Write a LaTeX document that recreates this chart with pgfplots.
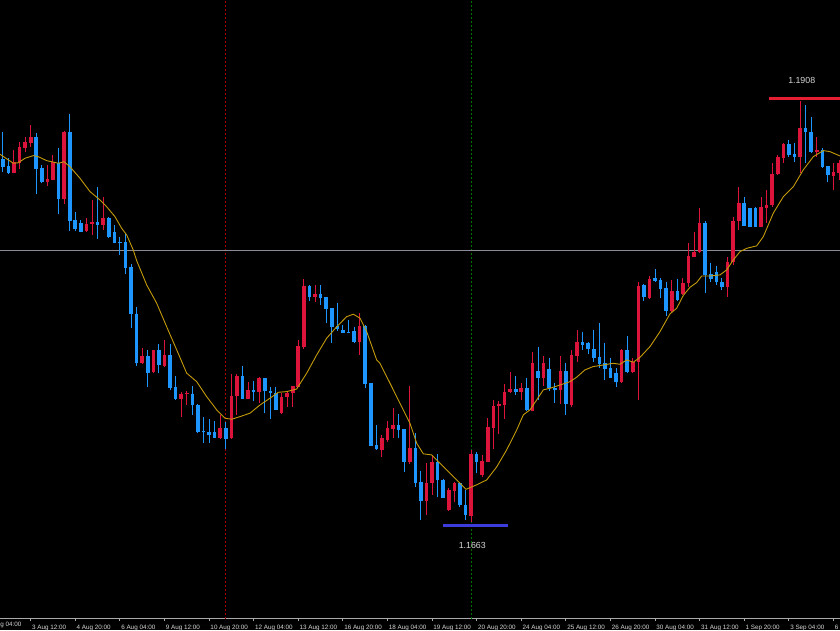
\documentclass[border=0pt]{standalone}
\usepackage{pgfplots}
\pgfplotsset{compat=1.18}
\usepackage{pgfplotstable}
\usepackage{fontspec}
\setmainfont{Liberation Sans}
\definecolor{cUp}{RGB}{220,20,60}
\definecolor{cDn}{RGB}{30,150,255}
\definecolor{cMA}{RGB}{195,155,10}
\definecolor{cGrid}{RGB}{140,140,150}
\definecolor{cAxis}{RGB}{170,170,170}
\definecolor{cLvlR}{RGB}{230,30,50}
\definecolor{cLvlB}{RGB}{60,60,220}
\definecolor{cTxt}{RGB}{215,215,215}
\definecolor{cSepR}{RGB}{170,0,0}
\definecolor{cSepG}{RGB}{0,115,0}

% bullish (red) candles: bar index, open, high, low, close
\pgfplotstableread{
x o h l c
-3 1.18654 1.18786 1.18653 1.18717
-2 1.18710 1.18831 1.18677 1.18802
-1 1.18800 1.18860 1.18773 1.18834
0 1.18828 1.18930 1.18805 1.18860
3 1.18604 1.18699 1.18578 1.18620
4 1.18616 1.18758 1.18612 1.18717
6 1.18505 1.18896 1.18478 1.18892
10 1.18319 1.18394 1.18315 1.18363
11 1.18363 1.18499 1.18296 1.18371
13 1.18357 1.18516 1.18325 1.18396
20 1.17560 1.17650 1.17558 1.17602
22 1.17508 1.17638 1.17506 1.17638
24 1.17546 1.17694 1.17541 1.17610
27 1.17353 1.17397 1.17253 1.17382
28 1.17384 1.17403 1.17320 1.17391
34 1.17132 1.17263 1.17125 1.17190
36 1.17129 1.17499 1.17125 1.17372
37 1.17372 1.17499 1.17263 1.17489
39 1.17355 1.17451 1.17352 1.17405
41 1.17397 1.17480 1.17330 1.17474
45 1.17273 1.17388 1.17269 1.17368
46 1.17365 1.17403 1.17311 1.17391
47 1.17391 1.17430 1.17311 1.17430
48 1.17422 1.17694 1.17421 1.17660
49 1.17652 1.18045 1.17642 1.18005
51 1.17943 1.18010 1.17914 1.17959
59 1.17683 1.17851 1.17608 1.17774
63 1.17062 1.17148 1.17023 1.17129
64 1.17119 1.17230 1.17109 1.17190
65 1.17184 1.17301 1.17129 1.17207
68 1.16991 1.17431 1.16981 1.17075
71 1.16768 1.16985 1.16688 1.16874
72 1.16874 1.17033 1.16803 1.16994
75 1.16717 1.16841 1.16711 1.16832
76 1.16828 1.16879 1.16764 1.16870
79 1.16684 1.17062 1.16649 1.17039
81 1.16918 1.17033 1.16908 1.17000
82 1.16994 1.17244 1.16992 1.17196
83 1.17190 1.17349 1.17067 1.17315
84 1.17315 1.17343 1.17154 1.17328
85 1.17320 1.17441 1.17240 1.17395
86 1.17393 1.17512 1.17388 1.17412
88 1.17393 1.17445 1.17349 1.17418
90 1.17286 1.17627 1.17283 1.17560
92 1.17474 1.17602 1.17430 1.17560
95 1.17407 1.17602 1.17326 1.17516
97 1.17320 1.17637 1.17311 1.17608
98 1.17602 1.17751 1.17568 1.17681
106 1.17451 1.17641 1.17445 1.17637
108 1.17508 1.17589 1.17503 1.17566
109 1.17566 1.18029 1.17349 1.18006
111 1.17934 1.18062 1.17930 1.18045
115 1.17863 1.18039 1.17851 1.17978
117 1.17959 1.18049 1.17953 1.18024
118 1.18024 1.18250 1.17997 1.18177
119 1.18173 1.18315 1.18170 1.18202
120 1.18202 1.18451 1.18193 1.18365
125 1.17997 1.18170 1.17940 1.18144
126 1.18144 1.18403 1.18125 1.18380
127 1.18380 1.18575 1.18326 1.18480
131 1.18345 1.18518 1.18342 1.18457
132 1.18455 1.18557 1.18365 1.18470
133 1.18470 1.18710 1.18460 1.18648
134 1.18648 1.18758 1.18643 1.18748
135 1.18739 1.18825 1.18710 1.18819
138 1.18745 1.19070 1.18656 1.18911
141 1.18777 1.18860 1.18748 1.18786
144 1.18639 1.18710 1.18557 1.18662
145 1.18653 1.18729 1.18614 1.18710
}\upT

% bearish (blue) candles
\pgfplotstableread{
x o h l c
-5 1.18733 1.18888 1.18662 1.18690
-4 1.18696 1.18739 1.18648 1.18654
1 1.18863 1.18882 1.18533 1.18679
2 1.18685 1.18699 1.18595 1.18601
5 1.18710 1.18800 1.18417 1.18506
7 1.18890 1.18995 1.18322 1.18378
8 1.18384 1.18430 1.18322 1.18330
9 1.18365 1.18384 1.18313 1.18317
12 1.18373 1.18572 1.18276 1.18357
14 1.18396 1.18400 1.18282 1.18286
15 1.18313 1.18353 1.18250 1.18253
16 1.18256 1.18286 1.18183 1.18252
17 1.18256 1.18302 1.18074 1.18110
18 1.18112 1.18129 1.17765 1.17844
19 1.17845 1.17885 1.17546 1.17560
21 1.17602 1.17637 1.17426 1.17506
23 1.17637 1.17669 1.17503 1.17550
25 1.17610 1.17671 1.17407 1.17420
26 1.17424 1.17487 1.17349 1.17355
29 1.17384 1.17431 1.17263 1.17320
30 1.17320 1.17323 1.17160 1.17163
31 1.17171 1.17253 1.17100 1.17163
32 1.17163 1.17240 1.17100 1.17148
33 1.17163 1.17230 1.17129 1.17132
35 1.17190 1.17224 1.17065 1.17126
38 1.17489 1.17545 1.17353 1.17353
40 1.17407 1.17460 1.17345 1.17397
42 1.17474 1.17476 1.17273 1.17401
43 1.17401 1.17426 1.17240 1.17388
44 1.17388 1.17426 1.17289 1.17292
50 1.18005 1.18010 1.17920 1.17940
52 1.17959 1.18010 1.17895 1.17934
53 1.17940 1.17941 1.17790 1.17872
54 1.17876 1.17878 1.17675 1.17770
55 1.17774 1.17908 1.17747 1.17755
56 1.17751 1.17780 1.17732 1.17736
57 1.17742 1.17809 1.17732 1.17734
58 1.17746 1.17770 1.17675 1.17684
60 1.17777 1.17780 1.17416 1.17439
61 1.17445 1.17449 1.17085 1.17086
62 1.17090 1.17205 1.17062 1.17065
66 1.17207 1.17269 1.17129 1.17176
67 1.17180 1.17182 1.16937 1.16994
69 1.17075 1.17158 1.16851 1.16874
70 1.16879 1.16943 1.16659 1.16768
73 1.16994 1.17039 1.16793 1.16889
74 1.16889 1.16892 1.16786 1.16787
77 1.16870 1.16879 1.16736 1.16745
78 1.16745 1.16832 1.16659 1.16688
80 1.17039 1.17052 1.16928 1.16991
87 1.17411 1.17487 1.17378 1.17393
89 1.17416 1.17474 1.17286 1.17290
91 1.17516 1.17656 1.17349 1.17474
93 1.17526 1.17589 1.17403 1.17416
94 1.17420 1.17445 1.17334 1.17407
96 1.17518 1.17560 1.17263 1.17326
99 1.17681 1.17742 1.17637 1.17665
100 1.17675 1.17684 1.17614 1.17641
101 1.17641 1.17751 1.17569 1.17589
102 1.17596 1.17794 1.17533 1.17556
103 1.17560 1.17679 1.17464 1.17527
104 1.17531 1.17589 1.17474 1.17477
105 1.17503 1.17531 1.17426 1.17451
107 1.17637 1.17717 1.17503 1.17508
110 1.18010 1.18013 1.17920 1.17943
112 1.18049 1.18101 1.18029 1.18035
113 1.18039 1.18049 1.17934 1.17986
114 1.17991 1.18029 1.17834 1.17863
116 1.17978 1.18043 1.17918 1.17924
121 1.18368 1.18380 1.17963 1.18068
122 1.18072 1.18135 1.18029 1.18045
123 1.18087 1.18120 1.18010 1.18029
124 1.18029 1.18049 1.17982 1.17997
128 1.18483 1.18514 1.18351 1.18351
129 1.18451 1.18453 1.18345 1.18345
130 1.18451 1.18460 1.18345 1.18345
136 1.18819 1.18844 1.18748 1.18758
137 1.18764 1.18825 1.18719 1.18745
139 1.18911 1.19045 1.18713 1.18888
140 1.18892 1.18978 1.18768 1.18777
142 1.18786 1.18796 1.18681 1.18690
143 1.18695 1.18695 1.18604 1.18643
}\dnT

% moving average
\pgfplotstableread{
x y
-5.51 1.18762
-3.71 1.18723
-3.12 1.18710
-2.22 1.18713
-1.02 1.18739
0.47 1.18754
1.36 1.18748
2.87 1.18725
4.05 1.18717
4.95 1.18710
5.97 1.18719
7.05 1.18690
8.84 1.18624
10.64 1.18547
12.43 1.18499
13.63 1.18460
15.12 1.18403
16.32 1.18336
17.22 1.18298
18.40 1.18211
19.01 1.18150
20.81 1.18010
22.60 1.17905
24.39 1.17770
26.19 1.17637
27.98 1.17503
29.78 1.17454
31.57 1.17368
33.36 1.17292
34.85 1.17244
36.05 1.17238
37.54 1.17253
39.34 1.17273
41.13 1.17320
42.92 1.17359
44.41 1.17393
45.92 1.17397
47.71 1.17412
49.51 1.17503
51.30 1.17608
53.09 1.17704
54.89 1.17770
56.68 1.17828
57.87 1.17842
59.07 1.17819
60.27 1.17742
62.06 1.17579
62.65 1.17560
64.45 1.17445
66.24 1.17330
68.03 1.17215
69.24 1.17100
70.43 1.17039
71.93 1.17033
73.11 1.16994
74.62 1.16947
76.41 1.16889
78.08 1.16835
80.00 1.16861
81.79 1.16889
83.59 1.16964
85.38 1.17062
87.17 1.17176
88.36 1.17263
89.56 1.17292
90.76 1.17349
91.95 1.17407
93.15 1.17416
94.95 1.17435
96.74 1.17454
97.94 1.17480
99.43 1.17522
100.91 1.17541
102.71 1.17550
104.50 1.17560
105.70 1.17554
106.91 1.17579
108.09 1.17566
109.29 1.17594
111.09 1.17656
112.88 1.17742
114.67 1.17844
115.87 1.17876
117.06 1.17950
118.26 1.17997
119.46 1.18024
120.36 1.18062
121.85 1.18062
123.64 1.18068
124.84 1.18097
126.03 1.18154
127.23 1.18202
128.43 1.18221
130.22 1.18235
131.41 1.18288
133.20 1.18423
135.00 1.18518
136.79 1.18575
138.58 1.18672
140.38 1.18748
142.17 1.18783
143.37 1.18777
145.17 1.18752
}\maT

\begin{document}
\begin{tikzpicture}
\useasboundingbox (0,0) rectangle (840pt,630pt);
\fill[black] (0,0) rectangle (840pt,630pt);
\clip (0,0) rectangle (840pt,630pt);
\begin{axis}[
  at={(0pt,12pt)}, anchor=south west,
  width=840pt, height=618pt, scale only axis,
  xmin=-5.507, xmax=145.17,
  ymin=1.16095, ymax=1.19649,
  axis y line=none,
  axis x line*=bottom,
  x axis line style={-, draw=cAxis, line width=0.8pt},
  xtick={0,8,...,144},
  xticklabels={3 Aug 12:00, 4 Aug 20:00, 6 Aug 04:00, 9 Aug 12:00, 10 Aug 20:00, 12 Aug 04:00, 13 Aug 12:00, 16 Aug 20:00, 18 Aug 04:00, 19 Aug 12:00, 20 Aug 20:00, 24 Aug 04:00, 25 Aug 12:00, 26 Aug 20:00, 30 Aug 04:00, 31 Aug 12:00, 1 Sep 20:00, 3 Sep 04:00, 6 Sep 12:00},
  tick align=outside,
  major tick length=3pt,
  xtick style={draw=cAxis, line width=0.8pt},
  xticklabel style={font=\fontsize{6.3pt}{7pt}\selectfont, text=cTxt, anchor=north west, inner sep=0pt, xshift=1.2pt, yshift=-3.6pt},
  clip=true,
]
% separators and reference line
\addplot[draw=cSepR, line width=1.3pt, dash pattern=on 2pt off 2pt, mark=none] coordinates {(35,1.16) (35,1.2)};
\addplot[draw=cSepG, line width=1.1pt, dash pattern=on 2pt off 2pt, mark=none] coordinates {(79,1.16) (79,1.2)};
\addplot[draw=cGrid, line width=0.8pt, mark=none] coordinates {(-6,1.18211) (146,1.18211)};

% wicks
\addplot[draw=none, mark=none, forget plot, error bars/.cd, y dir=plus, y explicit, error mark=none,
  error bar style={draw=cUp, line width=1pt}]
  table[x=x, y=l, y error plus expr={\thisrow{h}-\thisrow{l}}] \upT;
\addplot[draw=none, mark=none, forget plot, error bars/.cd, y dir=plus, y explicit, error mark=none,
  error bar style={draw=cDn, line width=1pt}]
  table[x=x, y=l, y error plus expr={\thisrow{h}-\thisrow{l}}] \dnT;
% bodies
\addplot[draw=none, mark=none, forget plot, error bars/.cd, y dir=plus, y explicit, error mark=none,
  error bar style={draw=cUp, line width=3.6pt}]
  table[x=x, y=o, y error plus expr={max(\thisrow{c}-\thisrow{o},0.00005)}] \upT;
\addplot[draw=none, mark=none, forget plot, error bars/.cd, y dir=plus, y explicit, error mark=none,
  error bar style={draw=cDn, line width=3.6pt}]
  table[x=x, y=c, y error plus expr={max(\thisrow{o}-\thisrow{c},0.00005)}] \dnT;

% moving average
\addplot[draw=cMA, line width=0.9pt, mark=none] table[x=x, y=y] \maT;

% high / low level lines
\addplot[draw=cLvlR, line width=3pt, mark=none] coordinates {(132.4,1.19081) (146,1.19081)};
\addplot[draw=cLvlB, line width=3pt, mark=none] coordinates {(73.95,1.16627) (85.6,1.16627)};

\node[text=cTxt, font=\fontsize{8.8pt}{10pt}\selectfont, inner sep=0pt] at (axis cs:138.3,1.19185) {1.1908};
\node[text=cTxt, font=\fontsize{8.8pt}{10pt}\selectfont, inner sep=0pt] at (axis cs:79.2,1.16512) {1.1663};
\end{axis}
\node[text=cTxt, font=\fontsize{6.3pt}{7pt}\selectfont, anchor=north west, inner sep=0pt] at (-12.7pt,8.4pt) {2 Aug 04:00};
\end{tikzpicture}
\end{document}
